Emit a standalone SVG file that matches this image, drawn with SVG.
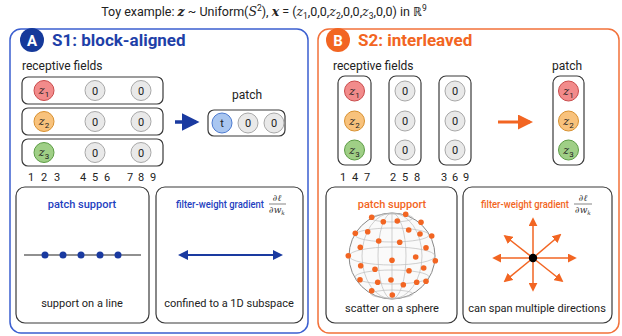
<svg xmlns="http://www.w3.org/2000/svg" width="622" height="336" viewBox="0 0 622 336">
<defs>
<style>
text{font-family:Roboto,"Liberation Sans",sans-serif;fill:#222}
.m{font-family:"DejaVu Serif","Liberation Serif",serif;font-style:italic}
.panelA{fill:none;stroke:#3b5fd0;stroke-width:1.5}
.panelB{fill:none;stroke:#f2713a;stroke-width:1.5}
.box{fill:#fff;stroke:#3a3a3a;stroke-width:1.2}
.sub{fill:none;stroke:#3a3a3a;stroke-width:1.2}
.c1{fill:#f28b8b;stroke:#c94a4a}
.c2{fill:#f8c27c;stroke:#d8902e}
.c3{fill:#9fcf86;stroke:#5c9c44}
.c0{fill:#e9e9e9;stroke:#a8a8a8}
.ct{fill:#a9c6f0;stroke:#4d7bd0}
.cl{font-size:11px;text-anchor:middle}
.num{font-size:11px;text-anchor:middle}
.lbl{font-size:12px}
.cap{font-size:11px;text-anchor:middle}
.hA{font-size:11px;font-weight:500;fill:#1f3fbf}
.hB{font-size:11px;font-weight:500;fill:#f26522}
.frac{font-size:9px;text-anchor:middle;fill:#333}
.grid{fill:none;stroke:#bbb;stroke-width:0.7}
</style>
<marker id="ahA" viewBox="0 0 10 10" refX="8" refY="5" markerWidth="5" markerHeight="5" orient="auto-start-reverse"><path d="M0,0 L10,5 L0,10 z" fill="#1a3aa0"/></marker>
<marker id="ahB" viewBox="0 0 10 10" refX="8" refY="5" markerWidth="5" markerHeight="5" orient="auto-start-reverse"><path d="M0,0 L10,5 L0,10 z" fill="#f26522"/></marker>
<marker id="ahS" viewBox="0 0 10 10" refX="8" refY="5" markerWidth="6" markerHeight="6" orient="auto-start-reverse"><path d="M0,0 L10,5 L0,10 z" fill="#f26522"/></marker>
</defs>
<rect width="622" height="336" fill="#fff"/>

<g id="connectors">
<line x1="175" y1="122" x2="196" y2="122" stroke="#1a3aa0" stroke-width="3.5" marker-end="url(#ahA)"/>
<line x1="498" y1="122" x2="530" y2="122" stroke="#f26522" stroke-width="3" marker-end="url(#ahB)"/>
<line x1="180" y1="255" x2="281" y2="255" stroke="#1a3aa0" stroke-width="2" marker-start="url(#ahA)" marker-end="url(#ahA)"/>
<g stroke="#f26522" stroke-width="1.5" marker-end="url(#ahS)">
<line x1="533" y1="258" x2="533" y2="219"/>
<line x1="533" y1="258" x2="533" y2="290"/>
<line x1="533" y1="258" x2="494" y2="258"/>
<line x1="533" y1="258" x2="575" y2="258"/>
<line x1="533" y1="258" x2="505" y2="236"/>
<line x1="533" y1="258" x2="560" y2="235"/>
<line x1="533" y1="258" x2="505" y2="281"/>
<line x1="533" y1="258" x2="562" y2="281"/>
</g>
</g>

<g id="title">
<text x="264" y="16" font-size="12.5" text-anchor="middle">Toy example:  <tspan class="m" font-weight="bold">z</tspan> ~ Uniform(<tspan class="m">S</tspan><tspan font-size="8.5" dy="-5">2</tspan><tspan dy="5">),  </tspan><tspan class="m" font-weight="bold">x</tspan> = (<tspan class="m">z</tspan><tspan font-size="8.5" dy="3">1</tspan><tspan dy="-3">,0,0,</tspan><tspan class="m">z</tspan><tspan font-size="8.5" dy="3">2</tspan><tspan dy="-3">,0,0,</tspan><tspan class="m">z</tspan><tspan font-size="8.5" dy="3">3</tspan><tspan dy="-3">,0,0) in ℝ</tspan><tspan font-size="8.5" dy="-5">9</tspan></text>
</g>

<!-- Panel A -->
<g id="panelA">
<rect class="panelA" x="10" y="29" width="298" height="304" rx="11"/>
<circle cx="32" cy="40" r="12" fill="#15399a"/>
<text x="32" y="45.5" text-anchor="middle" font-size="15" font-weight="bold" style="fill:#fff">A</text>
<text x="52" y="46" font-size="17" font-weight="bold" style="fill:#1e3fa8">S1: block-aligned</text>
<text class="lbl" x="22" y="70">receptive fields</text>
</g>

<g id="rowA1">
<rect class="box" x="22" y="77" width="141" height="27" rx="6"/>
<circle class="c1" cx="44" cy="90.5" r="10"/><text class="cl" x="44" y="94"><tspan class="m">z</tspan><tspan font-size="8" dy="3">1</tspan></text>
<circle class="c0" cx="95" cy="90.5" r="10"/><text class="cl" x="95" y="94.5">0</text>
<circle class="c0" cx="141" cy="90.5" r="10"/><text class="cl" x="141" y="94.5">0</text>
</g>
<g id="rowA2">
<rect class="box" x="22" y="108" width="141" height="27" rx="6"/>
<circle class="c2" cx="44" cy="121.5" r="10"/><text class="cl" x="44" y="125"><tspan class="m">z</tspan><tspan font-size="8" dy="3">2</tspan></text>
<circle class="c0" cx="95" cy="121.5" r="10"/><text class="cl" x="95" y="125.5">0</text>
<circle class="c0" cx="141" cy="121.5" r="10"/><text class="cl" x="141" y="125.5">0</text>
</g>
<g id="rowA3">
<rect class="box" x="22" y="139" width="141" height="27" rx="6"/>
<circle class="c3" cx="44" cy="152.5" r="10"/><text class="cl" x="44" y="156"><tspan class="m">z</tspan><tspan font-size="8" dy="3">3</tspan></text>
<circle class="c0" cx="95" cy="152.5" r="10"/><text class="cl" x="95" y="156.5">0</text>
<circle class="c0" cx="141" cy="152.5" r="10"/><text class="cl" x="141" y="156.5">0</text>
</g>
<g id="indicesA">
<text class="num" x="31" y="181">1</text><text class="num" x="44" y="181">2</text><text class="num" x="57" y="181">3</text>
<text class="num" x="83" y="181">4</text><text class="num" x="95" y="181">5</text><text class="num" x="107" y="181">6</text>
<text class="num" x="130" y="181">7</text><text class="num" x="141" y="181">8</text><text class="num" x="153" y="181">9</text>
</g>

<g id="patchA">
<text class="lbl" x="247" y="99" text-anchor="middle">patch</text>
<rect class="box" x="208" y="110" width="77" height="26" rx="6"/>
<circle class="ct" cx="222" cy="123" r="10"/><text class="cl" x="222" y="127">t</text>
<circle class="c0" cx="248" cy="123" r="10"/><text class="cl" x="248" y="127">0</text>
<circle class="c0" cx="274" cy="123" r="10"/><text class="cl" x="274" y="127">0</text>
</g>

<g id="supportA">
<rect class="sub" x="16" y="187" width="133" height="136" rx="9"/>
<text class="hA" x="82" y="208" text-anchor="middle">patch support</text>
<line x1="24" y1="255" x2="141" y2="255" stroke="#222" stroke-width="1.2"/>
<g fill="#1a3aa0"><circle cx="45" cy="255" r="3.5"/><circle cx="63" cy="255" r="3.5"/><circle cx="81" cy="255" r="3.5"/><circle cx="100" cy="255" r="3.5"/><circle cx="118" cy="255" r="3.5"/></g>
<text class="cap" x="82" y="307">support on a line</text>
</g>

<g id="gradA">
<rect class="sub" x="156" y="187" width="147" height="136" rx="9"/>
<text class="hA" x="176" y="208" font-size="11.5" textLength="88" lengthAdjust="spacingAndGlyphs">filter-weight gradient</text>
<text class="frac" x="277" y="201"><tspan class="m">∂ℓ</tspan></text>
<line x1="269" y1="204" x2="286" y2="204" stroke="#333" stroke-width="0.6"/>
<text class="frac" x="277" y="213"><tspan class="m">∂w</tspan><tspan font-size="6" dy="1.5" class="m">k</tspan></text>
<text class="cap" x="229" y="307">confined to a 1D subspace</text>
</g>

<!-- Panel B -->
<g id="panelB">
<rect class="panelB" x="318" y="29" width="301" height="304" rx="11"/>
<circle cx="338" cy="40" r="12" fill="#f26522"/>
<text x="338" y="45.5" text-anchor="middle" font-size="15" font-weight="bold" style="fill:#fff">B</text>
<text x="358" y="46" font-size="17" font-weight="bold" style="fill:#f26522">S2: interleaved</text>
<text class="lbl" x="333" y="70">receptive fields</text>
</g>

<g id="colB1">
<rect class="box" x="338" y="76" width="33" height="89" rx="7"/>
<circle class="c1" cx="354.5" cy="91" r="10"/><text class="cl" x="354.5" y="94.5"><tspan class="m">z</tspan><tspan font-size="8" dy="3">1</tspan></text>
<circle class="c2" cx="354.5" cy="121" r="10"/><text class="cl" x="354.5" y="124.5"><tspan class="m">z</tspan><tspan font-size="8" dy="3">2</tspan></text>
<circle class="c3" cx="354.5" cy="150" r="10"/><text class="cl" x="354.5" y="153.5"><tspan class="m">z</tspan><tspan font-size="8" dy="3">3</tspan></text>
</g>
<g id="colB2">
<rect class="box" x="389" y="76" width="32" height="89" rx="7"/>
<circle class="c0" cx="405" cy="91" r="10"/><text class="cl" x="405" y="95">0</text>
<circle class="c0" cx="405" cy="121" r="10"/><text class="cl" x="405" y="125">0</text>
<circle class="c0" cx="405" cy="150" r="10"/><text class="cl" x="405" y="154">0</text>
</g>
<g id="colB3">
<rect class="box" x="439" y="76" width="32" height="89" rx="7"/>
<circle class="c0" cx="455" cy="91" r="10"/><text class="cl" x="455" y="95">0</text>
<circle class="c0" cx="455" cy="121" r="10"/><text class="cl" x="455" y="125">0</text>
<circle class="c0" cx="455" cy="150" r="10"/><text class="cl" x="455" y="154">0</text>
</g>
<g id="indicesB">
<text class="num" x="343" y="181">1</text><text class="num" x="355" y="181">4</text><text class="num" x="367" y="181">7</text>
<text class="num" x="393" y="181">2</text><text class="num" x="405" y="181">5</text><text class="num" x="417" y="181">8</text>
<text class="num" x="444" y="181">3</text><text class="num" x="455" y="181">6</text><text class="num" x="466" y="181">9</text>
</g>

<g id="patchB">
<text class="lbl" x="567" y="70" text-anchor="middle">patch</text>
<rect class="box" x="553" y="76" width="31" height="89" rx="7"/>
<circle class="c1" cx="568.5" cy="91" r="10"/><text class="cl" x="568.5" y="94.5"><tspan class="m">z</tspan><tspan font-size="8" dy="3">1</tspan></text>
<circle class="c2" cx="568.5" cy="121" r="10"/><text class="cl" x="568.5" y="124.5"><tspan class="m">z</tspan><tspan font-size="8" dy="3">2</tspan></text>
<circle class="c3" cx="568.5" cy="150" r="10"/><text class="cl" x="568.5" y="153.5"><tspan class="m">z</tspan><tspan font-size="8" dy="3">3</tspan></text>
</g>

<g id="supportB">
<rect class="sub" x="326" y="187" width="131" height="136" rx="9"/>
<text class="hB" x="392" y="208" text-anchor="middle">patch support</text>
<circle cx="392" cy="256" r="43" fill="#fafafa" stroke="#888" stroke-width="1"/>
<g class="grid">
<ellipse cx="392" cy="256" rx="43" ry="9"/>
<ellipse cx="392" cy="235" rx="37" ry="7"/>
<ellipse cx="392" cy="277" rx="37" ry="7"/>
<ellipse cx="392" cy="218" rx="21" ry="4"/>
<ellipse cx="392" cy="294" rx="21" ry="4"/>
<ellipse cx="392" cy="256" rx="14" ry="43"/>
<ellipse cx="392" cy="256" rx="30" ry="43"/>
<line x1="392" y1="213" x2="392" y2="299"/>
</g>
<g fill="#f26522">
<circle cx="371.7" cy="217.3" r="2.8"/><circle cx="383.3" cy="221.7" r="2.8"/><circle cx="397.3" cy="221" r="2.8"/><circle cx="405.7" cy="214.3" r="2.8"/><circle cx="421" cy="222.3" r="2.8"/>
<circle cx="355.3" cy="233.3" r="2.8"/><circle cx="367.7" cy="231.7" r="2.8"/><circle cx="408.7" cy="230" r="2.8"/><circle cx="420" cy="234" r="2.8"/><circle cx="431.7" cy="236" r="2.8"/>
<circle cx="360.3" cy="247.3" r="2.8"/><circle cx="378.7" cy="241" r="2.8"/><circle cx="399.7" cy="242.3" r="2.8"/><circle cx="426" cy="247.7" r="2.8"/>
<circle cx="348.3" cy="255.7" r="2.8"/><circle cx="392" cy="260.3" r="2.8"/><circle cx="415.7" cy="257" r="2.8"/><circle cx="435.3" cy="260.7" r="2.8"/>
<circle cx="360.7" cy="265.7" r="2.8"/><circle cx="375" cy="269.3" r="2.8"/><circle cx="409" cy="270.7" r="2.8"/><circle cx="423.7" cy="268" r="2.8"/>
<circle cx="360" cy="279.7" r="2.8"/><circle cx="377.7" cy="282.3" r="2.8"/><circle cx="391" cy="280" r="2.8"/><circle cx="403.3" cy="284.7" r="2.8"/><circle cx="416.7" cy="282.3" r="2.8"/><circle cx="426" cy="281.3" r="2.8"/>
<circle cx="371.7" cy="290.7" r="2.8"/><circle cx="392.3" cy="295" r="2.8"/>
</g>
<text class="cap" x="392" y="312">scatter on a sphere</text>
</g>

<g id="gradB">
<rect class="sub" x="463" y="187" width="149" height="136" rx="9"/>
<text class="hB" x="481" y="208" font-size="11.5" textLength="88" lengthAdjust="spacingAndGlyphs">filter-weight gradient</text>
<text class="frac" x="583" y="201"><tspan class="m">∂ℓ</tspan></text>
<line x1="574" y1="204" x2="592" y2="204" stroke="#333" stroke-width="0.6"/>
<text class="frac" x="583" y="213"><tspan class="m">∂w</tspan><tspan font-size="6" dy="1.5" class="m">k</tspan></text>
<circle cx="533" cy="258" r="4.2" fill="#000"/>
<text class="cap" x="537" y="312">can span multiple directions</text>
</g>
</svg>
